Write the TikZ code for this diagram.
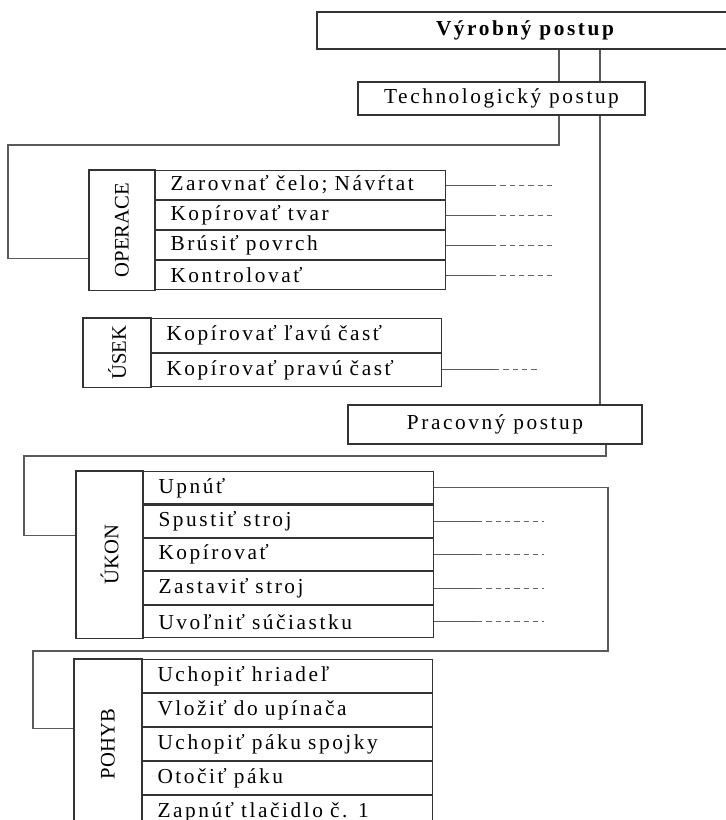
\documentclass[tikz,border=0pt]{standalone}
\usepackage{fontspec}
\setmainfont{Liberation Serif}[LetterSpace=12]
\newfontfamily\labfont{Liberation Serif}
\usetikzlibrary{positioning,fit}

\tikzset{
  box/.style={draw=black!80, line width=0.8pt, rectangle, inner sep=0pt, font=\fontsize{16}{18}\selectfont},
  row/.style={draw=black!80, line width=0.8pt, rectangle, minimum width=217.5pt, text width=195pt, inner xsep=11.25pt, inner ysep=0pt, align=left, font=\fontsize{16}{18}\selectfont},
  grp/.style={draw=black!80, line width=0.8pt, rectangle, inner sep=0pt},
  grptxt/.style={rotate=90, font=\labfont\fontsize{15.5}{17}\selectfont},
  conn/.style={draw=black!65, line width=0.8pt},
  stub/.style={draw=black!60, line width=0.8pt, dash pattern=on 4pt off 3pt},
}

\begin{document}
\begin{tikzpicture}[x=0.75pt, y=-0.75pt]
\useasboundingbox (0,0) rectangle (725,820);

% hlavicka
\node (vyr)[box, minimum width=312pt, minimum height=27.75pt] at (525,30.5) {\bfseries Výrobný postup};
\node (techno)[box, minimum width=215.25pt, minimum height=24.75pt] at (501.5,98.5) {Technologický postup};
\node (prac)[box, minimum width=220.5pt, minimum height=29.25pt] at (495,424.5) {Pracovný postup};

% operace
\node (op1)[row, minimum height=21.75pt, anchor=north west] at (155,170) {Zarovnať čelo; Návŕtat};
\node (op2)[row, minimum height=21.75pt, below=0pt of op1] {Kopírovať tvar};
\node (op3)[row, minimum height=21.75pt, below=0pt of op2] {Brúsiť povrch};
\node (op4)[row, minimum height=21.75pt, below=0pt of op3] {Kontrolovať};
\node (oplab)[grp, fit={(89,170) (op4.south west)}] {};
\node (optxt)[grptxt] at (oplab.center) {OPERACE};

% usek
\node (us1)[row, minimum height=25.125pt, anchor=north west] at (151,318) {Kopírovať ľavú časť};
\node (us2)[row, minimum height=25.125pt, below=0pt of us1] {Kopírovať pravú časť};
\node (uslab)[grp, fit={(83,318) (us2.south west)}] {};
\node (ustxt)[grptxt] at (uslab.center) {ÚSEK};

% ukon
\node (uk1)[row, minimum height=24.3pt, anchor=north west] at (143,471) {Upnúť};
\node (uk2)[row, minimum height=24.3pt, below=0pt of uk1] {Spustiť stroj};
\node (uk3)[row, minimum height=24.3pt, below=0pt of uk2] {Kopírovať};
\node (uk4)[row, minimum height=24.3pt, below=0pt of uk3] {Zastaviť stroj};
\node (uk5)[row, minimum height=24.3pt, below=0pt of uk4] {Uvoľniť súčiastku};
\node (uklab)[grp, fit={(76,471) (uk5.south west)}] {};
\node (uktxt)[grptxt] at (uklab.center) {ÚKON};

% pohyb
\node (po1)[row, minimum height=24.75pt, anchor=north west] at (142,659) {Uchopiť hriadeľ};
\node (po2)[row, minimum height=24.75pt, below=0pt of po1] {Vložiť do upínača};
\node (po3)[row, minimum height=24.75pt, below=0pt of po2] {Uchopiť páku spojky};
\node (po4)[row, minimum height=24.75pt, below=0pt of po3] {Otočiť páku};
\node (po5)[row, minimum height=24.75pt, below=0pt of po4] {Zapnúť tlačidlo č. 1};
\node (polab)[grp, fit={(74,659) (po5.south west)}] {};
\node (potxt)[grptxt] at (polab.center) {POHYB};

% spojnice
\coordinate (lx) at (559,0);
\coordinate (rx) at (600,0);
\coordinate (px) at (606,0);
\coordinate (qx) at (608,0);
\coordinate (opcorner) at (8,145);
\coordinate (ukcorner) at (24,456);
\coordinate (pocorner) at (33,651);
\coordinate (opin) at ([yshift=-66.75pt]oplab.north west);
\coordinate (ukin) at ([yshift=-48.75pt]uklab.north west);
\coordinate (poin) at ([yshift=-52.5pt]polab.north west);

\draw [conn](vyr.south -| lx)--(techno.north -| lx);
\draw [conn](vyr.south -| rx)--(techno.north -| rx);
\draw [conn](techno.south -| lx) |- (opcorner) |- (opin);
\draw [conn](techno.south -| rx)--(prac.north -| rx);
\draw [conn](prac.south -| px) |- (ukcorner) |- (ukin);
\draw [conn](uk1.east) -| (qx |- pocorner) -- (pocorner) |- (poin);

\foreach \r in {op1,op2,op3,op4}{
  \draw [conn](\r.east)--++(45,0) coordinate (\r-s);
  \draw [stub](\r-s)--++(65,0);
}
\draw [conn](us2.east)--++(52,0) coordinate (us2-s);
\draw [stub](us2-s)--++(44,0);
\foreach \r in {uk2,uk3,uk4,uk5}{
  \draw [conn](\r.east)--++(43,0) coordinate (\r-s);
  \draw [stub](\r-s)--++(67,0);
}
\end{tikzpicture}
\end{document}
